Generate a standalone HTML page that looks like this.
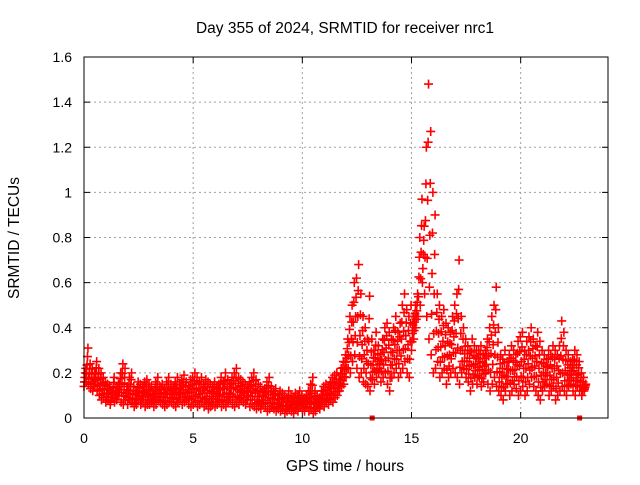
<!DOCTYPE html>
<html><head><meta charset="utf-8"><style>
body{margin:0;background:#fff;}
svg text{font-family:"Liberation Sans",sans-serif;font-size:14px;fill:#000;}
svg text.big{font-size:15.5px;}
</style></head><body>
<svg id="chart" width="640" height="480" xmlns="http://www.w3.org/2000/svg">
<rect x="0" y="0" width="640" height="480" fill="#fff"/>
<text class="big" x="345" y="33" text-anchor="middle">Day 355 of 2024, SRMTID for receiver nrc1</text>
<text class="big" x="345" y="471" text-anchor="middle">GPS time / hours</text>
<text class="big" transform="translate(19,238) rotate(-90)" text-anchor="middle">SRMTID / TECUs</text>
<g id="grid"></g>
<g id="ticks"></g>
<g id="marks"></g>
<rect x="84" y="57" width="524" height="361" fill="none" stroke="#000" stroke-width="1"/>
</svg>
<script>
const xTicks=[0,5,10,15,20];
const yTicks=[0,0.2,0.4,0.6,0.8,1,1.2,1.4,1.6];
const yTickLabels=["0","0.2","0.4","0.6","0.8","1","1.2","1.4","1.6"];
const timeStep=0.1;
const seriesLow=[
.14,.16,.15,.13,.12,.14,.12,.10,.08,.09,
.07,.08,.06,.09,.07,.08,.10,.07,.06,.08,
.06,.08,.07,.05,.06,.08,.06,.07,.05,.06,
.06,.07,.05,.06,.08,.07,.06,.05,.06,.07,
.07,.06,.05,.07,.08,.06,.07,.08,.06,.05,
.06,.07,.05,.06,.07,.05,.06,.04,.05,.06,
.05,.06,.07,.05,.06,.05,.07,.08,.06,.05,
.07,.06,.08,.07,.06,.08,.05,.06,.05,.04,
.05,.04,.06,.05,.03,.04,.05,.04,.03,.04,
.03,.04,.02,.03,.04,.03,.02,.04,.03,.05,
.04,.03,.05,.03,.04,.02,.03,.05,.04,.06,
.05,.07,.06,.08,.07,.09,.10,.12,.14,.15,
.18,.22,.20,.25,.28,.22,.18,.20,.16,.15,
.14,.12,.17,.15,.18,.20,.16,.18,.20,.15,
.12,.18,.20,.22,.18,.20,.22,.25,.20,.18,
.30,.35,.40,.45,.50,.60,.55,.45,.35,.28,
.20,.22,.25,.18,.20,.22,.15,.18,.20,.22,
.20,.18,.15,.20,.22,.18,.16,.12,.15,.18,
.15,.18,.14,.16,.20,.15,.12,.15,.18,.14,
.12,.10,.08,.12,.15,.10,.12,.15,.13,.10,
.12,.14,.10,.12,.15,.18,.14,.12,.10,.08,
.12,.14,.15,.10,.12,.14,.08,.10,.12,.14,
.12,.10,.14,.15,.12,.10,.14,.12,.10,.12];
const seriesHigh=[
.22,.31,.24,.22,.20,.25,.22,.20,.18,.16,
.15,.14,.12,.18,.14,.15,.20,.24,.22,.14,
.18,.20,.14,.12,.16,.15,.14,.16,.17,.15,
.14,.12,.16,.18,.14,.15,.13,.16,.18,.15,
.14,.16,.18,.15,.17,.19,.16,.14,.17,.18,
.20,.18,.16,.18,.15,.17,.16,.15,.14,.16,
.14,.15,.18,.16,.20,.17,.15,.18,.20,.22,
.18,.17,.16,.15,.14,.16,.18,.20,.17,.15,
.14,.12,.13,.16,.18,.14,.12,.13,.10,.12,
.11,.10,.09,.12,.10,.09,.11,.10,.12,.10,
.09,.10,.12,.15,.18,.12,.10,.09,.12,.14,
.15,.14,.16,.18,.19,.20,.17,.22,.25,.28,
.35,.45,.50,.60,.62,.68,.55,.45,.40,.35,
.54,.35,.30,.38,.32,.28,.35,.40,.42,.38,
.35,.40,.45,.38,.42,.50,.55,.48,.45,.50,
.45,.50,.55,.80,.97,.85,1.20,1.48,1.27,1.00,
.90,.55,.50,.45,.48,.42,.40,.38,.45,.50,
.55,.70,.45,.40,.35,.32,.30,.35,.32,.30,
.30,.32,.28,.30,.35,.40,.45,.50,.58,.40,
.28,.26,.30,.25,.28,.32,.30,.28,.34,.36,
.38,.30,.34,.36,.40,.35,.32,.38,.34,.30,
.28,.26,.30,.28,.32,.30,.28,.32,.43,.38,
.30,.28,.25,.26,.30,.28,.25,.20,.18,.15];
const gapTimes=[13.2,22.7];

const X0=84,X1=608,Y0=418,Y1=57;
function xs(t){return X0+(X1-X0)*t/24;}
function ys(v){return Y0-(Y0-Y1)*v/1.6;}
const NS="http://www.w3.org/2000/svg";
const grid=document.getElementById('grid'),ticks=document.getElementById('ticks'),marks=document.getElementById('marks');
function mk(tag,attrs,parent){const e=document.createElementNS(NS,tag);for(const k in attrs)e.setAttribute(k,attrs[k]);parent.appendChild(e);return e;}
xTicks.forEach(t=>{
  const x=xs(t);
  if(t>0){const g=mk('line',{x1:x,x2:x,y1:Y1,y2:Y0,stroke:'#a0a0a0','stroke-dasharray':'2,3'},grid);
  
  }
  mk('line',{x1:x,x2:x,y1:Y0,y2:Y0-6,stroke:'#000'},ticks);
  mk('line',{x1:x,x2:x,y1:Y1,y2:Y1+6,stroke:'#000'},ticks);
  const l=mk('text',{x:x,y:443,'text-anchor':'middle'},ticks);l.textContent=t;
  
  
});
yTicks.forEach((v,i)=>{
  const y=ys(v);
  if(v>0&&v<1.6){const g=mk('line',{x1:X0,x2:X1,y1:y,y2:y,stroke:'#a0a0a0','stroke-dasharray':'2,3'},grid);
  
  }
  mk('line',{x1:X0,x2:X0+6,y1:y,y2:y,stroke:'#000'},ticks);
  mk('line',{x1:X1,x2:X1-6,y1:y,y2:y,stroke:'#000'},ticks);
  const l=mk('text',{x:72,y:y+5,'text-anchor':'end'},ticks);l.textContent=yTickLabels[i];
  
  
});
function plus(x,y,c){
  const p=mk('path',{d:`M${x-4.5},${y}h9M${x},${y-4.5}v9`,stroke:c,'stroke-width':1.6,fill:'none'},marks);
  
  
}
const fracs=[0,0.25,0.5,0.75,1];
seriesLow.forEach((v,i)=>{
  const h=seriesHigh[i];
  fracs.forEach((f,k)=>{
    plus(xs(i*timeStep+k*0.02),ys(v+(h-v)*f),'#f00');
  });
});
gapTimes.forEach(t=>{
  const r=mk('rect',{x:xs(t)-2.5,y:Y0-2.5,width:5,height:5,fill:'#f00'},marks);
  
  
});
</script>
</body></html>
